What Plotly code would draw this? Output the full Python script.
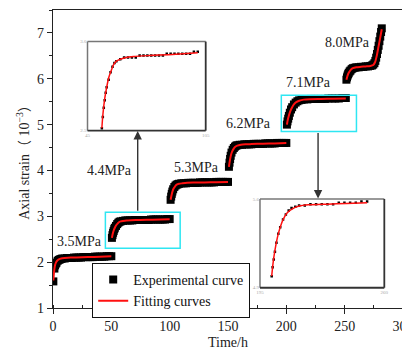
import plotly.graph_objects as go

# ---------------- data ----------------
# Experimental curve, one list pair per loading stage
t1 = [0.3, 1.2, 1.8, 2.5, 3, 4, 5, 6, 7, 8, 10, 12, 14, 16, 18, 20, 22, 24, 26, 28, 30, 32, 34, 36, 38, 40, 42, 44, 46, 48, 50]
y1 = [1.58, 1.86, 1.93, 1.97, 1.99, 2.03, 2.05, 2.06, 2.07, 2.08, 2.08, 2.09, 2.09, 2.09, 2.10, 2.10, 2.10, 2.10, 2.11, 2.11, 2.11, 2.11, 2.11, 2.12, 2.12, 2.12, 2.12, 2.12, 2.13, 2.13, 2.13]

t2 = [50.5, 51, 51.5, 52, 52.5, 53, 54, 55, 56, 57, 58, 60, 62, 64, 66, 68, 70, 72, 74, 76, 78, 80, 82, 84, 86, 88, 90, 92, 94, 96, 98, 100]
y2 = [2.53, 2.59, 2.64, 2.68, 2.72, 2.75, 2.79, 2.83, 2.86, 2.88, 2.89, 2.90, 2.91, 2.91, 2.91, 2.91, 2.92, 2.92, 2.92, 2.92, 2.92, 2.92, 2.92, 2.93, 2.93, 2.93, 2.93, 2.93, 2.93, 2.93, 2.94, 2.94]

t3 = [100.8, 101.3, 101.8, 102.3, 103, 104, 105, 106, 107, 108, 110, 112, 114, 116, 118, 120, 122, 124, 126, 128, 130, 132, 134, 136, 138, 140, 142, 144, 146, 148, 150]
y3 = [3.36, 3.43, 3.49, 3.54, 3.59, 3.64, 3.67, 3.69, 3.70, 3.71, 3.72, 3.72, 3.72, 3.73, 3.73, 3.73, 3.73, 3.73, 3.74, 3.74, 3.74, 3.74, 3.74, 3.74, 3.74, 3.75, 3.75, 3.75, 3.75, 3.75, 3.75]

t4 = [150.8, 151.3, 151.8, 152.3, 153, 154, 155, 156, 157, 158, 160, 162, 164, 166, 168, 170, 172, 174, 176, 178, 180, 182, 184, 186, 188, 190, 192, 194, 196, 198, 200]
y4 = [4.08, 4.17, 4.25, 4.32, 4.39, 4.45, 4.49, 4.52, 4.54, 4.55, 4.56, 4.56, 4.57, 4.57, 4.57, 4.57, 4.58, 4.58, 4.58, 4.58, 4.58, 4.59, 4.59, 4.59, 4.59, 4.59, 4.60, 4.60, 4.60, 4.60, 4.60]

t5 = [200.5, 201, 201.6, 202.2, 203, 204, 205, 206.5, 208, 209.5, 211, 213, 215, 218, 221, 224, 227, 230, 233, 236, 239, 242, 245, 248, 251]
y5 = [5.00, 5.07, 5.13, 5.19, 5.26, 5.33, 5.38, 5.44, 5.48, 5.51, 5.53, 5.54, 5.55, 5.55, 5.56, 5.56, 5.56, 5.56, 5.56, 5.57, 5.57, 5.57, 5.57, 5.58, 5.58]

t6 = [251.5, 252, 252.5, 253, 253.5, 254.3, 255, 256, 257, 258.5, 260, 262, 264, 266, 268, 270, 272, 273.5, 274.5, 275.5, 276.3, 277, 277.7, 278.4, 279.1, 279.8, 280.5, 281.2, 281.8]
y6 = [5.98, 6.03, 6.07, 6.10, 6.13, 6.16, 6.18, 6.21, 6.23, 6.24, 6.25, 6.25, 6.26, 6.26, 6.27, 6.27, 6.28, 6.29, 6.31, 6.34, 6.39, 6.46, 6.54, 6.63, 6.72, 6.82, 6.92, 7.02, 7.10]

# Fitting curves
ft1 = [0.3, 0.8, 1.3, 1.8, 2.5, 3.5, 5, 7, 10, 15, 20, 30, 40, 50]
fy1 = [1.60, 1.76, 1.87, 1.94, 1.99, 2.03, 2.06, 2.08, 2.09, 2.10, 2.10, 2.11, 2.12, 2.13]
ft2 = [50.5, 51, 52, 53, 54, 55, 56.5, 58, 60, 63, 67, 75, 85, 100]
fy2 = [2.53, 2.60, 2.69, 2.75, 2.80, 2.83, 2.87, 2.89, 2.90, 2.91, 2.915, 2.92, 2.925, 2.935]
ft3 = [100.8, 101.5, 102.5, 103.5, 104.5, 106, 108, 111, 115, 120, 130, 140, 150]
fy3 = [3.36, 3.45, 3.55, 3.61, 3.65, 3.69, 3.71, 3.72, 3.73, 3.735, 3.74, 3.745, 3.75]
ft4 = [150.8, 151.5, 152.5, 153.5, 154.5, 156, 158, 161, 165, 170, 180, 190, 200]
fy4 = [4.08, 4.20, 4.33, 4.41, 4.46, 4.51, 4.54, 4.56, 4.57, 4.575, 4.585, 4.59, 4.60]
ft5 = [200.5, 201.2, 202.2, 203.5, 205, 206.5, 208.5, 211, 215, 220, 230, 240, 251]
fy5 = [5.00, 5.10, 5.20, 5.30, 5.38, 5.44, 5.49, 5.52, 5.545, 5.555, 5.56, 5.565, 5.57]
ft6 = [251.5, 252.5, 253.5, 255, 257, 260, 264, 268, 272, 274.5, 276, 277.5, 279, 280.5, 281.8]
fy6 = [5.98, 6.07, 6.13, 6.19, 6.23, 6.25, 6.26, 6.27, 6.28, 6.30, 6.36, 6.50, 6.70, 6.90, 7.08]

stage_labels = ["3.5MPa", "4.4MPa", "5.3MPa", "6.2MPa", "7.1MPa", "8.0MPa"]
label_t = [22.5, 48.8, 122.7, 167.3, 219.3, 252.1]
label_y = [2.45, 4.00, 4.06, 5.03, 5.91, 6.80]

# ---------------- figure ----------------
FONT = "Liberation Serif"
CJK = "<span style=\"font-family:'Noto Sans CJK SC'\">{}</span>"

exp_t = t1 + t2 + t3 + t4 + t5 + t6
exp_y = y1 + y2 + y3 + y4 + y5 + y6
fit_t, fit_y = [], []
for ft, fy in [(ft1, fy1), (ft2, fy2), (ft3, fy3), (ft4, fy4), (ft5, fy5), (ft6, fy6)]:
    fit_t += ft + [None]
    fit_y += fy + [None]

fig = go.Figure()
fig.add_trace(go.Scatter(x=exp_t, y=exp_y, mode="markers", name="Experimental curve",
                         marker=dict(symbol="square", size=8, color="black")))
fig.add_trace(go.Scatter(x=fit_t, y=fit_y, mode="lines", name="Fitting curves",
                         line=dict(color="#ff1010", width=2, shape="spline", smoothing=0.6),
                         connectgaps=False))

# inset 1 (4.4 MPa stage)
fig.add_trace(go.Scatter(x=t2, y=y2, mode="markers", showlegend=False, xaxis="x2", yaxis="y2",
                         marker=dict(symbol="square", size=2.5, color="black")))
fig.add_trace(go.Scatter(x=ft2, y=fy2, mode="lines", showlegend=False, xaxis="x2", yaxis="y2",
                         line=dict(color="#ff1010", width=1.5, shape="spline", smoothing=0.6)))
# inset 2 (7.1 MPa stage)
fig.add_trace(go.Scatter(x=t5, y=y5, mode="markers", showlegend=False, xaxis="x3", yaxis="y3",
                         marker=dict(symbol="square", size=2.5, color="black")))
fig.add_trace(go.Scatter(x=ft5, y=fy5, mode="lines", showlegend=False, xaxis="x3", yaxis="y3",
                         line=dict(color="#ff1010", width=1.5, shape="spline", smoothing=0.6)))

ins1_x, ins1_y = [0.0986, 0.4363], [0.595, 0.894]
ins2_x, ins2_y = [0.5914, 0.9466], [0.068, 0.3658]
ins1_xr, ins1_yr = [43.1, 104.1], [2.517, 2.995]
ins2_xr, ins2_yr = [194.3, 260.1], [4.91, 5.60]

tickf = dict(family=FONT, size=14, color="#222")
small = dict(family=FONT, size=5, color="#aaa")

def inset_axis(dom, rng, labels):
    return dict(domain=dom, range=rng, showgrid=False, zeroline=False, showline=False,
                ticks="", tickvals=rng, ticktext=labels, tickfont=small, ticklen=0,
                automargin=False)

ytitle = "Axial strain" + CJK.format("（") + " 10<sup>−3</sup>" + CJK.format("）")

# page body has an 8px default margin, so the figure is 8px smaller and shifted
fig.update_layout(
    width=402, height=350, autosize=False,
    margin=dict(l=45, r=7, t=2, b=50),
    paper_bgcolor="white", plot_bgcolor="white",
    font=dict(family=FONT, size=14, color="#222"),
    xaxis=dict(range=[0, 300], dtick=50, showgrid=False, zeroline=False, automargin=False,
               showline=True, linecolor="#222", linewidth=1.3, mirror=True,
               ticks="outside", ticklen=5, tickcolor="#222", tickwidth=1.2, tickfont=tickf,
               ticklabeloverflow="allow",
               minor=dict(dtick=25, ticks="inside", ticklen=3, tickcolor="#222"),
               title=dict(text="Time/h", font=dict(family=FONT, size=14, color="#222"), standoff=4)),
    yaxis=dict(range=[1, 7.5], dtick=1, showgrid=False, zeroline=False, automargin=False,
               showline=True, linecolor="#222", linewidth=1.3, mirror=True,
               ticks="outside", ticklen=5, tickcolor="#222", tickwidth=1.2, tickfont=tickf,
               ticklabeloverflow="allow",
               minor=dict(dtick=0.5, ticks="outside", ticklen=3, tickcolor="#222"),
               title=dict(text=ytitle, font=dict(family=FONT, size=14, color="#222"), standoff=4)),
    xaxis2=dict(anchor="y2", **inset_axis(ins1_x, ins1_xr, ["45", "105"])),
    yaxis2=dict(anchor="x2", **inset_axis(ins1_y, ins1_yr, ["2.5", "3.0"])),
    xaxis3=dict(anchor="y3", **inset_axis(ins2_x, ins2_xr, ["195", "260"])),
    yaxis3=dict(anchor="x3", **inset_axis(ins2_y, ins2_yr, ["4.9", "5.6"])),
    legend=dict(x=0.112, y=0.151, xanchor="left", yanchor="top",
                bgcolor="white", bordercolor="#111", borderwidth=1,
                font=dict(family=FONT, size=14, color="#111"),
                tracegroupgap=0, itemwidth=30),
)

shapes = []
# cyan highlight boxes
for x0, x1, y0, y1_ in [(44.9, 109.0, 2.304, 3.091), (195.7, 260.1, 4.852, 5.638)]:
    shapes.append(dict(type="rect", xref="x", yref="y", x0=x0, x1=x1, y0=y0, y1=y1_,
                       line=dict(color="#2ee6f2", width=1.5)))
# inset frames (light top/left, dark right/bottom)
for dx, dy in [(ins1_x, ins1_y), (ins2_x, ins2_y)]:
    shapes.append(dict(type="line", xref="paper", yref="paper", x0=dx[0], x1=dx[1], y0=dy[1], y1=dy[1],
                       line=dict(color="#777", width=1.5)))
    shapes.append(dict(type="line", xref="paper", yref="paper", x0=dx[0], x1=dx[0], y0=dy[0], y1=dy[1],
                       line=dict(color="#777", width=1.5)))
    shapes.append(dict(type="line", xref="paper", yref="paper", x0=dx[0], x1=dx[1], y0=dy[0], y1=dy[0],
                       line=dict(color="#333", width=1.8)))
    shapes.append(dict(type="line", xref="paper", yref="paper", x0=dx[1], x1=dx[1], y0=dy[0], y1=dy[1],
                       line=dict(color="#333", width=1.8)))
fig.update_layout(shapes=shapes)

ann = []
for txt, tx, ty in zip(stage_labels, label_t, label_y):
    ann.append(dict(x=tx, y=ty, xref="x", yref="y", text=txt, showarrow=False,
                    font=dict(family=FONT, size=14, color="#222")))
# arrows linking boxes and insets
ann.append(dict(x=72.6, y=4.86, ax=72.6, ay=3.091, xref="x", yref="y", axref="x", ayref="y",
                text="", showarrow=True, arrowhead=2, arrowsize=1.2, arrowwidth=1.4, arrowcolor="#333"))
ann.append(dict(x=227.2, y=3.39, ax=227.2, ay=4.852, xref="x", yref="y", axref="x", ayref="y",
                text="", showarrow=True, arrowhead=2, arrowsize=1.2, arrowwidth=1.4, arrowcolor="#333"))
fig.update_layout(annotations=ann)

fig.write_html("out.html")
